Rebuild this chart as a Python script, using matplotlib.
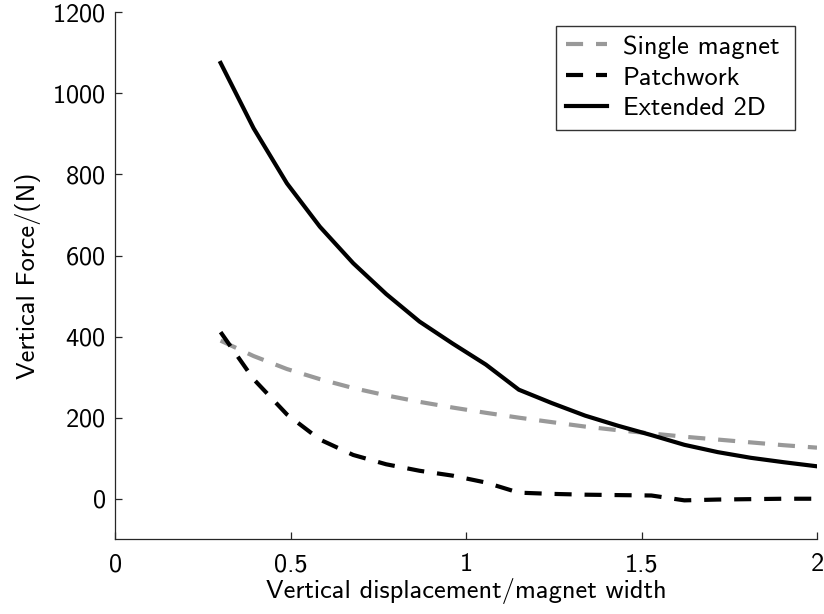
import matplotlib
matplotlib.use("Agg")
import matplotlib.pyplot as plt

plt.rcParams['font.family'] = ['cmss10', 'DejaVu Sans']
plt.rcParams['axes.formatter.use_mathtext'] = True

# displacement / magnet width
disp = [0.30, 0.394, 0.489, 0.583, 0.678, 0.772, 0.867, 0.961, 1.056, 1.15,
        1.244, 1.339, 1.433, 1.528, 1.622, 1.717, 1.811, 1.906, 2.00]

# vertical force in N
single_magnet = [390, 352, 320, 295, 273, 255, 239, 225, 212, 200,
                 189, 178, 169, 161, 153, 146, 139, 132, 126]
patchwork = [411, 295, 208, 146, 108, 85, 69, 57, 40, 15,
             12, 10, 9, 8, -4, -2, -1, 0, 0]
extended_2d = [1075, 914, 778, 671, 581, 505, 437, 383, 331, 269,
               236, 205, 180, 157, 133, 115, 101, 90, 80]

fs = 19

fig = plt.figure(figsize=(8.24, 6.14), dpi=100)
ax = fig.add_axes([0.140, 0.1217, 0.8515, 0.8583])

lw = 3
ax.plot(disp, single_magnet, color='#999999', lw=lw, dashes=(4.1, 3.1),
        dash_capstyle='butt', label='Single magnet')
ax.plot(disp, patchwork, color='black', lw=lw, dashes=(4.1, 3.1),
        dash_capstyle='butt', label='Patchwork')
ax.plot(disp, extended_2d, color='black', lw=lw, label='Extended 2D')

ax.set_xlim(0, 2)
ax.set_ylim(-100, 1200)
ax.set_xticks([0, 0.5, 1, 1.5, 2])
ax.set_xticklabels(['0', '0.5', '1', '1.5', '2'])
ax.set_yticks([0, 200, 400, 600, 800, 1000, 1200])

for side in ['top', 'right']:
    ax.spines[side].set_visible(False)
for side in ['left', 'bottom']:
    ax.spines[side].set_linewidth(0.9)
    ax.spines[side].set_color('#262626')

ax.tick_params(direction='in', length=5, width=0.9, color='#262626',
               labelsize=fs)
ax.tick_params(axis='x', pad=10)
ax.tick_params(axis='y', pad=7)

ax.set_xlabel('Vertical displacement/magnet width', fontsize=fs, labelpad=1)
ax.set_ylabel('Vertical Force/(N)', fontsize=fs, labelpad=8)

# fixed-width legend box, entries left aligned
leg = ax.legend(loc='upper left', bbox_to_anchor=(0.6285, 0.5, 0.3395, 0.4746),
                mode='expand', borderaxespad=0, fancybox=False, fontsize=fs,
                handlelength=1.55, handletextpad=0.6, labelspacing=0.28,
                borderpad=0.36)
leg.get_frame().set_edgecolor('black')
leg.get_frame().set_linewidth(1.0)

fig.savefig('out.png', dpi=100)
